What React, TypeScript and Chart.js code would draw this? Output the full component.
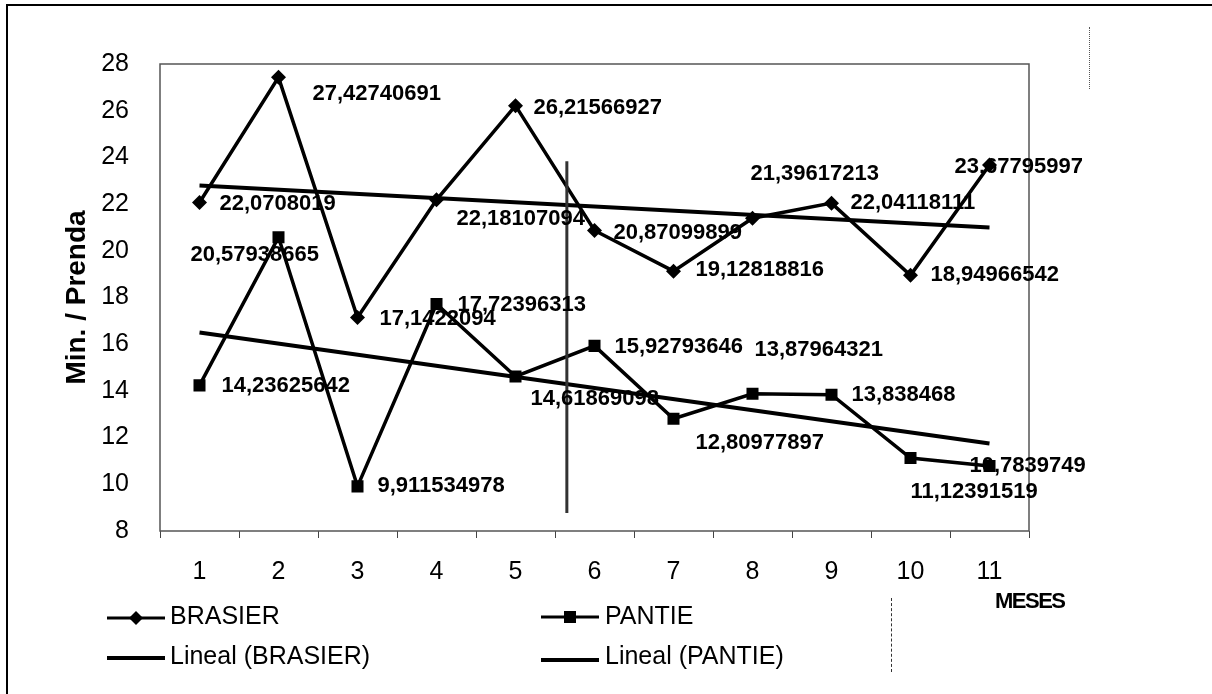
import React, { useEffect, useRef } from 'react';
import { Chart, registerables } from 'chart.js';

Chart.register(...registerables);

// ---- data ----
const months = ['1', '2', '3', '4', '5', '6', '7', '8', '9', '10', '11'];
const brasier = [22.0708019, 27.42740691, 17.1422094, 22.18107094, 26.21566927, 20.87099899, 19.12818816, 21.39617213, 22.04118111, 18.94966542, 23.67795997];
const pantie = [14.23625642, 20.57938665, 9.911534978, 17.72396313, 14.61869098, 15.92793646, 12.80977897, 13.87964321, 13.838468, 11.12391519, 10.7839749];
const trendMonths = ['1', '11'];
const brasierTrend = [22.8, 21.0];
const pantieTrend = [16.5, 11.75];
const yMin = 8;
const yMax = 28;
const yStep = 2;
const dividerMonth = 5.65;
const dividerRange = [8.77, 23.84];
const seriesNames = ['BRASIER', 'PANTIE', 'Lineal (BRASIER)', 'Lineal (PANTIE)'];
const axisTitleY = 'Min. / Prenda';
const axisTitleX = 'MESES';

// ---- label placement (layout only) ----
const brasierLabelOffsets = [[20, 0], [34, 16], [22, 0], [20, 18], [18, 1], [19, 1], [22, -2], [-2, -45], [19, -1], [20, -1], [-35, 1]];
const pantieLabelOffsets = [[22, 0], [-88, 17], [20, -1], [21, 0], [15, 21], [20, 0], [22, 23], [2, -45], [20, -1], [0, 33], [-20, -1]];

const FONT = '"Liberation Sans", Arial, sans-serif';

const fmt = (v: number) => String(v).replace('.', ',');

const chartPlugin = {
  id: 'decor',
  beforeDatasetsDraw(chart: any) {
    const { ctx, chartArea: a } = chart;
    ctx.save();
    ctx.strokeStyle = '#555';
    ctx.lineWidth = 1.5;
    ctx.strokeRect(a.left, a.top, a.right - a.left, a.bottom - a.top);
    ctx.restore();
  },
  afterDatasetsDraw(chart: any) {
    const { ctx } = chart;
    const xs = chart.scales.x;
    const ys = chart.scales.y;
    ctx.save();
    // divider line
    const px = xs.getPixelForValue(dividerMonth - 1);
    ctx.strokeStyle = '#333';
    ctx.lineWidth = 3;
    ctx.beginPath();
    ctx.moveTo(px, ys.getPixelForValue(dividerRange[1]));
    ctx.lineTo(px, ys.getPixelForValue(dividerRange[0]));
    ctx.stroke();
    // data labels
    ctx.fillStyle = '#000';
    ctx.font = `bold 22px ${FONT}`;
    ctx.textAlign = 'left';
    ctx.textBaseline = 'middle';
    const offs = [brasierLabelOffsets, pantieLabelOffsets];
    [0, 1].forEach((di) => {
      const meta = chart.getDatasetMeta(di);
      const vals = chart.data.datasets[di].data as number[];
      meta.data.forEach((el: any, i: number) => {
        const [dx, dy] = offs[di][i];
        ctx.fillText(fmt(vals[i]), el.x + dx, el.y + dy + 1);
      });
    });
    ctx.restore();
  },
};

export default function App() {
  const ref = useRef<HTMLCanvasElement | null>(null);

  useEffect(() => {
    document.body.style.margin = '0';
    if (!ref.current) return;
    const chart = new Chart(ref.current, {
      type: 'line',
      data: {
        labels: months,
        datasets: [
          {
            label: seriesNames[0],
            data: brasier,
            borderColor: '#000',
            backgroundColor: '#000',
            borderWidth: 3.5,
            tension: 0,
            pointStyle: 'rectRot',
            pointRadius: 7.5,
            pointBorderWidth: 0,
            pointBackgroundColor: '#000',
          },
          {
            label: seriesNames[1],
            data: pantie,
            borderColor: '#000',
            backgroundColor: '#000',
            borderWidth: 3.5,
            tension: 0,
            pointStyle: 'rect',
            pointRadius: 8.5,
            pointBorderWidth: 0,
            pointBackgroundColor: '#000',
          },
          {
            label: seriesNames[2],
            data: trendMonths.map((m, i) => ({ x: m, y: brasierTrend[i] })) as any,
            borderColor: '#000',
            borderWidth: 4,
            pointRadius: 0,
            tension: 0,
          },
          {
            label: seriesNames[3],
            data: trendMonths.map((m, i) => ({ x: m, y: pantieTrend[i] })) as any,
            borderColor: '#000',
            borderWidth: 4,
            pointRadius: 0,
            tension: 0,
          },
        ],
      },
      options: {
        responsive: false,
        animation: false,
        devicePixelRatio: 1,
        layout: { padding: { left: 0, top: 64, right: 183, bottom: 0 } },
        plugins: {
          legend: { display: false },
          tooltip: { enabled: false },
        },
        scales: {
          x: {
            type: 'category',
            offset: true,
            grid: {
              display: true,
              drawOnChartArea: false,
              drawTicks: true,
              tickLength: 7,
              offset: true,
              color: '#444',
              lineWidth: 1,
            },
            border: { display: false },
            ticks: {
              color: '#000',
              font: { family: FONT, size: 25 },
              padding: 19,
              maxRotation: 0,
              autoSkip: false,
            },
            afterFit: (s: any) => {
              s.height = 163;
            },
          },
          y: {
            min: yMin,
            max: yMax,
            grid: { display: false },
            border: { display: false },
            ticks: {
              stepSize: yStep,
              color: '#000',
              font: { family: FONT, size: 25 },
              padding: 23,
            },
            title: {
              display: true,
              text: axisTitleY,
              color: '#000',
              font: { family: FONT, size: 28, weight: 'bold' },
              padding: { top: 60, bottom: 0 },
            },
            afterFit: (s: any) => {
              s.width = 160;
            },
          },
        },
      } as any,
      plugins: [chartPlugin],
    });
    return () => chart.destroy();
  }, []);

  const textStyle: React.CSSProperties = {
    position: 'absolute',
    fontFamily: FONT,
    fontSize: 25,
    lineHeight: '30px',
    color: '#000',
    whiteSpace: 'nowrap',
  };

  const lineIcon = (marker: 'diamond' | 'square' | 'none', thick: number) => (
    <svg width={58} height={16} style={{ display: 'block' }}>
      <line x1={0} y1={8} x2={58} y2={8} stroke="#000" strokeWidth={thick} />
      {marker === 'diamond' && <polygon points="29,1 36,8 29,15 22,8" fill="#000" />}
      {marker === 'square' && <rect x={23} y={2} width={12} height={12} fill="#000" />}
    </svg>
  );

  return (
    <div style={{ position: 'relative', width: 1212, height: 694, background: '#fff', overflow: 'hidden' }}>
      <div
        style={{
          position: 'absolute',
          left: 6,
          top: 4,
          width: 1212,
          height: 700,
          borderLeft: '2px solid #000',
          borderTop: '2px solid #000',
        }}
      />
      <canvas ref={ref} width={1212} height={694} style={{ position: 'absolute', left: 0, top: 0, width: 1212, height: 694 }} />
      {/* legend */}
      <div style={{ position: 'absolute', left: 107, top: 610 }}>{lineIcon('diamond', 3)}</div>
      <div style={{ ...textStyle, left: 170, top: 600 }}>{seriesNames[0]}</div>
      <div style={{ position: 'absolute', left: 107, top: 650 }}>{lineIcon('none', 4)}</div>
      <div style={{ ...textStyle, left: 170, top: 640 }}>{seriesNames[2]}</div>
      <div style={{ position: 'absolute', left: 541, top: 609 }}>{lineIcon('square', 3)}</div>
      <div style={{ ...textStyle, left: 605, top: 600 }}>{seriesNames[1]}</div>
      <div style={{ position: 'absolute', left: 541, top: 652 }}>{lineIcon('none', 4)}</div>
      <div style={{ ...textStyle, left: 605, top: 640 }}>{seriesNames[3]}</div>
      {/* x axis title */}
      <div
        style={{
          ...textStyle,
          left: 995,
          top: 588,
          fontSize: 22,
          lineHeight: '26px',
          fontWeight: 'bold',
          letterSpacing: '-1.5px',
        }}
      >
        {axisTitleX}
      </div>
      {/* scan artifacts: faint dashed marks */}
      <div style={{ position: 'absolute', left: 891, top: 598, height: 74, borderLeft: '1.5px dashed #333' }} />
      <div style={{ position: 'absolute', left: 1089, top: 27, height: 62, borderLeft: '1px dotted #555' }} />
    </div>
  );
}
